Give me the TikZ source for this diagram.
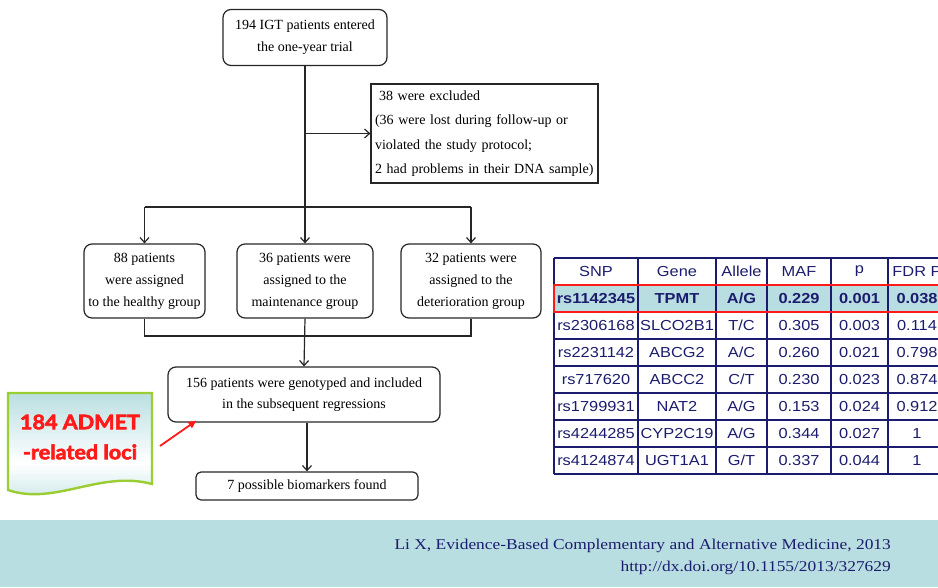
\documentclass[tikz,border=0pt]{standalone}
\usepackage{fontspec}
\setmainfont{Liberation Serif}
\newfontfamily\tabfont{Liberation Sans}[FakeStretch=1.13]
\newfontfamily\reffont{Liberation Serif}[FakeStretch=1.16]
\newfontfamily\callfont{Lato}[FakeStretch=1.08, BoldFeatures={FakeBold=3}]
\usetikzlibrary{arrows.meta,calc}
\definecolor{ink}{HTML}{262626}
\definecolor{navy}{HTML}{1C1C6E}
\definecolor{teal}{HTML}{B8DEE1}
\definecolor{leaf}{HTML}{9ACD32}
\definecolor{hot}{HTML}{FF1A1A}
% one row of the SNP table: [style]{y}{tag}{six cells}
\newcommand\tabrow[9][]{%
  \node[cell,#1] (#3-1) at (596,#2) {#4};
  \node[cell,#1] (#3-2) at (677,#2) {#5};
  \node[cell,#1] (#3-3) at (741.5,#2) {#6};
  \node[cell,#1] (#3-4) at (799,#2) {#7};
  \node[cell,#1] (#3-5) at (859.5,#2) {#8};
  \node[cell,#1] (#3-6) at (917,#2) {#9};
}
\begin{document}
\begin{tikzpicture}[x=1pt,y=-1pt,
  flow/.style={draw=ink, line width=1.2pt, rounded corners=8pt, align=center,
    inner sep=0pt, font=\fontsize{14}{22}\selectfont},
  link/.style={draw=ink, line width=1.2pt},
  arr/.style={link, -{Straight Barb[length=5pt,width=9pt]}},
  cell/.style={font=\tabfont\fontsize{14.5}{17}\selectfont, text=navy, inner sep=0pt},
  strong/.style={font=\tabfont\bfseries\fontsize{14.5}{17}\selectfont},
  grid/.style={draw=navy, line width=1.1pt},
]
\useasboundingbox (0,0) rectangle (938,587);

% ---------- flow chart ----------
\node[flow, minimum width=164pt, minimum height=56pt] (entry) at (305,37.5)
  {194 IGT patients entered\\the one-year trial};
\node[flow, rounded corners=0pt, minimum width=227pt, minimum height=99pt,
  text width=219pt, align=left, font=\fontsize{14}{24.3}\selectfont] (excl) at (484.5,133.5)
  {\hspace*{4pt}38 were excluded\\(36 were lost during follow-up or\\violated the study protocol;\\2 had problems in their DNA sample)};
\node[flow, minimum width=121pt, minimum height=74pt] (g1) at (144.5,281)
  {88 patients\\were assigned\\to the healthy group};
\node[flow, minimum width=136pt, minimum height=74pt] (g2) at (305,281)
  {36 patients were\\assigned to the\\maintenance group};
\node[flow, minimum width=140pt, minimum height=74pt] (g3) at (471,281)
  {32 patients were\\assigned to the\\deterioration group};
\node[flow, minimum width=272pt, minimum height=55pt, font=\fontsize{14}{21}\selectfont] (geno) at (304,394.5)
  {156 patients were genotyped and included\\in the subsequent regressions};
\node[flow, rounded corners=5pt, minimum width=222pt, minimum height=28pt] (final) at (307,486)
  {7 possible biomarkers found};

\coordinate (split) at (305,207);
\coordinate (merge) at (305,336);

\draw[arr] (entry.south) -- (g2.north);
\draw[arr] (entry.south |- excl.west) -- (excl.west);
\draw[link] (g1.north |- split) -- (g3.north |- split);
\draw[arr] (g1.north |- split) -- (g1.north);
\draw[arr] (g3.north |- split) -- (g3.north);
\draw[link] (g1.south) -- (g1.south |- merge) -- (g3.south |- merge) -- (g3.south);
\draw[arr] (g2.south) -- (geno.north);
\draw[arr] (geno.south -| final.north) -- (final.north);

% ---------- callout (document shape with a wavy foot) ----------
% fill built from thin bands: teal at the top, white low down, teal again at the foot
\begin{scope}
  \clip (8,393) -- (152,393) -- (152,484)
    .. controls (100,470) and (55,506) .. (8,490) -- cycle;
  \foreach \k in {0,...,46} {
    \pgfmathsetmacro\yy{390+2.5*\k}
    \pgfmathsetmacro\pc{\yy<462 ? 100*(462-\yy)/72 : 80*(\yy-462)/43}
    \fill[teal!\pc!white] (0,\yy) rectangle (160,\yy+2.7);
  }
\end{scope}
\draw[draw=leaf, line width=2.4pt]
  (8,393) -- (152,393) -- (152,484)
  .. controls (100,470) and (55,506) .. (8,490) -- cycle;
\node[font=\callfont\bfseries\fontsize{20}{30}\selectfont, text=hot, align=center] (loci) at (80,437)
  {184 ADMET\\-related loci};
\coordinate (lociTail) at (160,446);
\draw[hot, line width=1.8pt, -{Triangle[length=8pt,width=7pt]}]
  (lociTail) -- ($(geno.south west)+(29,-2)$);

% ---------- SNP table ----------
\fill[teal] (554,285) rectangle (946,312);
\foreach \gx in {554,638,716,767,831,888}
  \draw[grid] (\gx,258) -- (\gx,474);
\foreach \gy in {258,285,312,339,366,393,420,447,474}
  \draw[grid] (554,\gy) -- (946,\gy);
\draw[draw=hot, line width=1.5pt] (554,285) rectangle (946,312);

\tabrow{271.5}{r0}{SNP}{Gene}{Allele}{MAF}{p}{FDR P}
\tabrow[strong]{298.5}{r1}{rs1142345}{TPMT}{A/G}{0.229}{0.001}{0.038}
\tabrow{325.5}{r2}{rs2306168}{SLCO2B1}{T/C}{0.305}{0.003}{0.114}
\tabrow{352.5}{r3}{rs2231142}{ABCG2}{A/C}{0.260}{0.021}{0.798}
\tabrow{379.5}{r4}{rs717620}{ABCC2}{C/T}{0.230}{0.023}{0.874}
\tabrow{406.5}{r5}{rs1799931}{NAT2}{A/G}{0.153}{0.024}{0.912}
\tabrow{433.5}{r6}{rs4244285}{CYP2C19}{A/G}{0.344}{0.027}{1}
\tabrow{460.5}{r7}{rs4124874}{UGT1A1}{G/T}{0.337}{0.044}{1}

% ---------- reference band ----------
\fill[teal] (0,520) rectangle (938,587);
\node[anchor=east, font=\reffont\fontsize{15}{17}\selectfont, text=navy, inner sep=0pt] (cite) at (891,546)
  {Li X, Evidence-Based Complementary and Alternative Medicine, 2013};
\node[anchor=east, font=\reffont\fontsize{15}{17}\selectfont, text=navy, inner sep=0pt] (doi) at (891,568)
  {http://dx.doi.org/10.1155/2013/327629};
\end{tikzpicture}
\end{document}
